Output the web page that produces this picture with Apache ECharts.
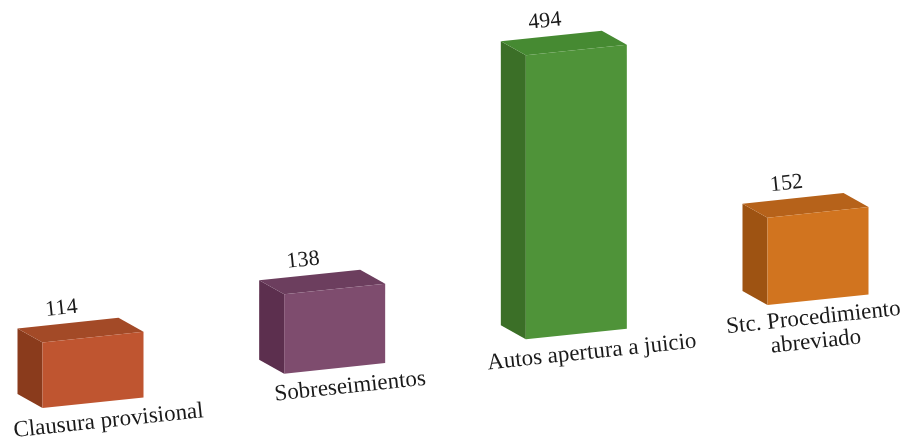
<!DOCTYPE html>
<html>
<head>
<meta charset="utf-8">
<script src="https://cdn.jsdelivr.net/npm/echarts@6/dist/echarts.min.js"></script>
<style>
html,body{margin:0;padding:0;background:#fff;}
#chart{width:907px;height:444px;}
</style>
</head>
<body>
<div id="chart"></div>
<script>
// ---- data ----
const categories = ['Clausura provisional', 'Sobreseimientos', 'Autos apertura a juicio', 'Stc. Procedimiento\nabreviado'];
const values = [114, 138, 494, 152];

// ---- styles ----
const frontColors = ['#bf5530', '#7e4c6e', '#4f9339', '#d1741f'];
const sideColors  = ['#8a3b1c', '#5c2f4e', '#3b6f27', '#9e5312'];
const topColors   = ['#a34a27', '#6c3e5e', '#468a32', '#b6621a'];

const FONT = '"Liberation Serif", "DejaVu Serif", serif';
const CAT_SIZE = 23, VAL_SIZE = 22;
const W = 101;            // front face width
const FACE_SLOPE = -0.105; // slope of front face top/bottom edges
const BASE_SLOPE = -0.142; // slope of the line bars stand on
const DX = -25, DY = -14;  // depth vector
const ROT = 0.105;
const CHART_W = 907;

const measureCtx = document.createElement('canvas').getContext('2d');
function textWidth(t, size) {
  measureCtx.font = size + 'px "Liberation Serif"';
  return Math.max.apply(null, t.split('\n').map(s => measureCtx.measureText(s).width));
}

const chart = echarts.init(document.getElementById('chart'), null, {renderer: 'canvas'});

function renderItem(params, api) {
  const i = api.value(0);
  const v = api.value(1);
  const base = api.coord([i, 0]);
  const topPt = api.coord([i, v]);
  const first = api.coord([0, 0]);
  const h = base[1] - topPt[1];
  const xL = base[0] - W / 2;
  const yB = first[1] + BASE_SLOPE * (xL - (first[0] - W / 2));
  const xR = xL + W;
  const yBR = yB + FACE_SLOPE * W;
  const fl_b = [xL, yB], fr_b = [xR, yBR];
  const fl_t = [xL, yB - h], fr_t = [xR, yBR - h];
  const bl_t = [xL + DX, yB - h + DY], br_t = [xR + DX, yBR - h + DY];
  const bl_b = [xL + DX, yB + DY];

  const cat = categories[i];
  const tw = textWidth(cat, CAT_SIZE);
  let lx = xL + 66;
  if (lx + tw / 2 > CHART_W - 6) lx = CHART_W - 6 - tw / 2;
  const ly = yB + 13;

  return {
    type: 'group',
    children: [
      {type: 'polygon', shape: {points: [fl_b, fl_t, bl_t, bl_b]}, style: {fill: sideColors[i]}},
      {type: 'polygon', shape: {points: [fl_t, fr_t, br_t, bl_t]}, style: {fill: topColors[i]}},
      {type: 'polygon', shape: {points: [fl_b, fr_b, fr_t, fl_t]}, style: {fill: frontColors[i]}},
      {type: 'text', x: xL + 19, y: yB - h - 34, rotation: ROT,
        style: {text: String(values[i]), font: VAL_SIZE + 'px ' + FONT, fill: '#1a1a1a', align: 'center', verticalAlign: 'middle'}},
      {type: 'text', x: lx, y: ly, rotation: ROT,
        style: {text: cat, font: CAT_SIZE + 'px ' + FONT, fill: '#1a1a1a', align: 'center', verticalAlign: 'top', y: -12, lineHeight: 24}}
    ]
  };
}

chart.setOption({
  backgroundColor: '#ffffff',
  animation: false,
  grid: {left: 93, right: 89, top: 63, bottom: 36},
  xAxis: {type: 'category', data: categories, boundaryGap: false, show: false},
  yAxis: {type: 'value', min: 0, max: 600, show: false},
  series: [{
    type: 'custom',
    renderItem: renderItem,
    data: values.map((v, i) => [i, v]),
    clip: false
  }]
});
</script>
</body>
</html>
